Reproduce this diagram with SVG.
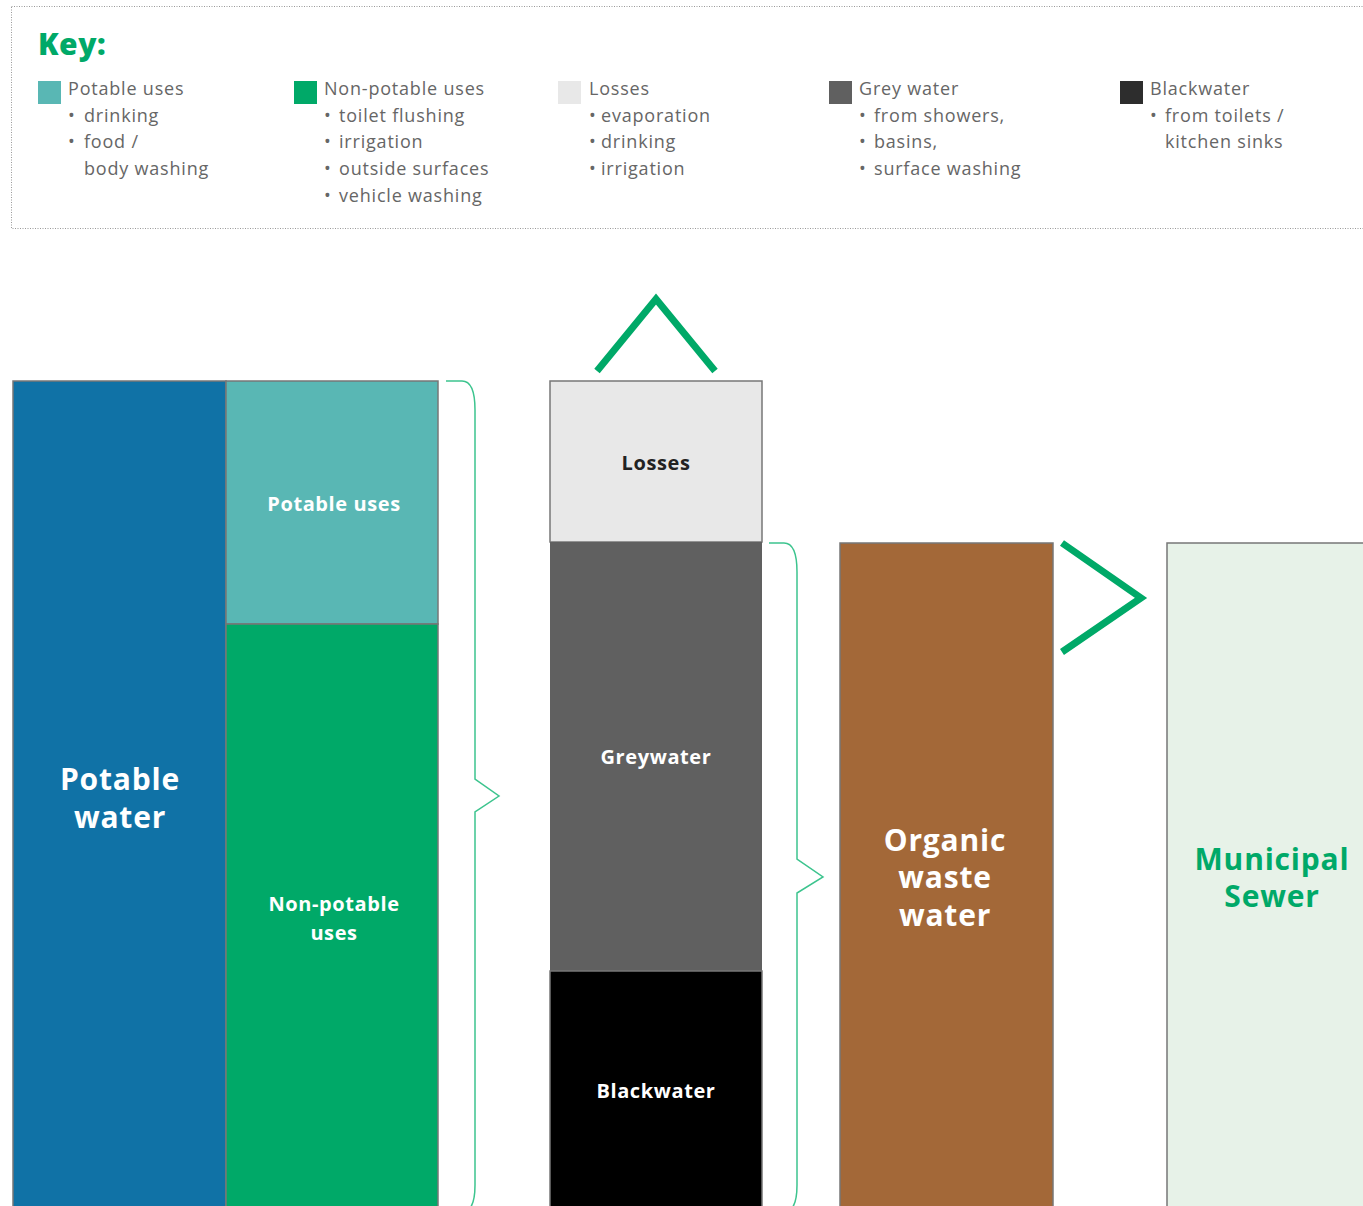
<svg xmlns="http://www.w3.org/2000/svg" width="1363" height="1206" viewBox="0 0 1363 1206">
<style>
.k{font-family:"Open Sans","Liberation Sans",sans-serif;font-size:18px;fill:#666;letter-spacing:0.8px}
.lb{font-family:"Open Sans","Liberation Sans",sans-serif;font-weight:700;text-anchor:middle}
.sm{font-size:20px;letter-spacing:0.6px}
.bg{font-size:30px;letter-spacing:0.8px}
.blk{stroke:#777;stroke-width:1.5}
.br{fill:none;stroke:#3cc48e;stroke-width:1.5}
.chev{fill:none;stroke:#00a968;stroke-width:7}
</style>
<rect width="1363" height="1206" fill="#fff"/>
<g id="key">
<rect x="11.5" y="6.5" width="1360" height="222" fill="none" stroke="#999" stroke-width="1" stroke-dasharray="1,1.5"/>
<text x="38" y="55" style="font-family:'Open Sans','Liberation Sans',sans-serif;font-weight:800;font-size:30px;fill:#00a968;letter-spacing:0.5px">Key:</text>
<rect x="38" y="81" width="23" height="23" fill="#59b7b4"/>
<text class="k" x="68" y="95">Potable uses</text>
<text class="k" x="68" y="122">•<tspan x="84">drinking</tspan></text>
<text class="k" x="68" y="148">•<tspan x="84">food /</tspan></text>
<text class="k" x="84" y="175">body washing</text>
<rect x="294" y="81" width="23" height="23" fill="#00a968"/>
<text class="k" x="324" y="95">Non-potable uses</text>
<text class="k" x="324" y="122">•<tspan x="339">toilet flushing</tspan></text>
<text class="k" x="324" y="148">•<tspan x="339">irrigation</tspan></text>
<text class="k" x="324" y="175">•<tspan x="339">outside surfaces</tspan></text>
<text class="k" x="324" y="202">•<tspan x="339">vehicle washing</tspan></text>
<rect x="558" y="81" width="23" height="23" fill="#e8e8e8"/>
<text class="k" x="589" y="95">Losses</text>
<text class="k" x="589" y="122">•<tspan x="601">evaporation</tspan></text>
<text class="k" x="589" y="148">•<tspan x="601">drinking</tspan></text>
<text class="k" x="589" y="175">•<tspan x="601">irrigation</tspan></text>
<rect x="829" y="81" width="23" height="23" fill="#606060"/>
<text class="k" x="859" y="95">Grey water</text>
<text class="k" x="859" y="122">•<tspan x="874">from showers,</tspan></text>
<text class="k" x="859" y="148">•<tspan x="874">basins,</tspan></text>
<text class="k" x="859" y="175">•<tspan x="874">surface washing</tspan></text>
<rect x="1120" y="81" width="23" height="23" fill="#2d2d2d"/>
<text class="k" x="1150" y="95">Blackwater</text>
<text class="k" x="1150" y="122">•<tspan x="1165">from toilets /</tspan></text>
<text class="k" x="1165" y="148">kitchen sinks</text>
</g>
<g id="potable-water">
<rect class="blk" x="13" y="381" width="213" height="840" fill="#1072a6"/>
<text class="lb bg" x="120" y="790" fill="#fff">Potable</text>
<text class="lb bg" x="120" y="828" fill="#fff">water</text>
</g>
<g id="potable-uses">
<rect class="blk" x="226" y="381" width="212" height="243" fill="#59b7b4"/>
<text class="lb sm" x="334" y="511" fill="#fff">Potable uses</text>
</g>
<g id="non-potable-uses">
<rect class="blk" x="226" y="624" width="212" height="600" fill="#00a968"/>
<text class="lb sm" x="334" y="911" fill="#fff">Non-potable</text>
<text class="lb sm" x="334" y="940" fill="#fff">uses</text>
</g>
<g id="losses">
<rect class="blk" x="550" y="381" width="212" height="161" fill="#e8e8e8"/>
<text class="lb sm" x="656" y="470" fill="#222">Losses</text>
</g>
<g id="greywater">
<rect x="550" y="542" width="212" height="429" fill="#606060"/>
<text class="lb sm" x="656" y="764" fill="#fff">Greywater</text>
</g>
<g id="blackwater">
<rect class="blk" x="550" y="971" width="212" height="250" fill="#000"/>
<text class="lb sm" x="656" y="1098" fill="#fff">Blackwater</text>
</g>
<g id="organic-waste-water">
<rect class="blk" x="840" y="543" width="213" height="680" fill="#a36838"/>
<text class="lb bg" x="945" y="851" fill="#fff">Organic</text>
<text class="lb bg" x="945" y="888" fill="#fff">waste</text>
<text class="lb bg" x="945" y="926" fill="#fff">water</text>
</g>
<g id="municipal-sewer">
<rect class="blk" x="1167" y="543" width="210" height="680" fill="#e7f2e8"/>
<text class="lb bg" x="1272" y="870" fill="#00a968">Municipal</text>
<text class="lb bg" x="1272" y="907" fill="#00a968">Sewer</text>
</g>
<g id="connectors">
<path class="br" d="M446,381 H462 Q475,381 475,410 V779 L499,796 L475,812 V1185 Q475,1212 462,1212"/>
<path class="br" d="M769,543 H784 Q797,543 797,572 V859 L823,877 L797,893 V1185 Q797,1212 784,1212"/>
<path class="chev" d="M597,371 L656,299 L715,371"/>
<path class="chev" d="M1062,543 L1141,598 L1062,652"/>
</g>
</svg>
